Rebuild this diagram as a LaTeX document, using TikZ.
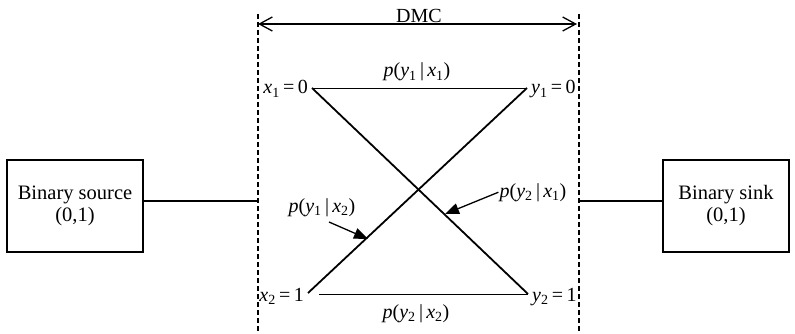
\documentclass[tikz,border=0pt]{standalone}
\usepackage{fontspec}
\setmainfont{Liberation Serif}
\usetikzlibrary{arrows.meta}
\newcommand{\pp}[4]{\textit{p}(\textit{#1}\textsubscript{#2}\,|\,\textit{#3}\textsubscript{#4})}
\newcommand{\vv}[3]{\textit{#1}\textsubscript{#2}\,=\,#3}
\tikzset{
  boxnode/.style={draw, line width=1.1pt, inner sep=0pt, align=center, font=\fontsize{20.5}{22}\selectfont},
  lbl/.style={inner sep=1pt, font=\fontsize{20}{22}\selectfont},
  border/.style={line width=1.4pt, dash pattern=on 5pt off 3pt},
  thin/.style={line width=0.9pt},
  thick diag/.style={line width=1.8pt},
  dmcarrow/.style={line width=1.5pt, {Straight Barb[length=13pt,width=14pt,line width=1.3pt]}-{Straight Barb[length=13pt,width=14pt,line width=1.3pt]}},
  ptr/.style={line width=1.3pt, -{Triangle[length=14pt,width=11pt]}}
}
\begin{document}
\begin{tikzpicture}[x=1pt,y=-1pt]
\useasboundingbox (0,0) rectangle (795,334);
% boxes
\node[boxnode, minimum width=136pt, minimum height=92pt] (src) at (75,206) {Binary source\\(0,1)};
\node[boxnode, minimum width=126pt, minimum height=92pt] (snk) at (726,206) {Binary sink\\(0,1)};
% DMC borders
\coordinate (dlt) at (258,14);
\coordinate (dlb) at (258,334);
\coordinate (drt) at (579,14);
\coordinate (drb) at (579,334);
\draw[border] (dlt) -- (dlb);
\draw[border] (drt) -- (drb);
\coordinate (am1) at (258,24);
\coordinate (am2) at (577,24);
\draw[dmcarrow] (am1) -- (am2);
\node[lbl] (dmc) at (419,16) {DMC};
% connections to boxes
\coordinate (sL) at ([yshift=5pt]src.east);
\coordinate (sR) at ([yshift=5pt]snk.west);
\draw[line width=1.1pt] (sL) -- (sL -| dlt);
\draw[line width=1.1pt] (sR) -- (sR -| drt);
% channel points
\coordinate (x1) at (312,88);
\coordinate (y1) at (527,88);
\coordinate (x2) at (308,293);
\coordinate (x2h) at (319,294);
\coordinate (y2) at (528,294);
\node[lbl, anchor=base east] (lx1) at (309,94) {\vv{x}{1}{0}};
\node[lbl, anchor=base west] (ly1) at (530,94) {\vv{y}{1}{0}};
\node[lbl, anchor=base east] (lx2) at (305,301) {\vv{x}{2}{1}};
\node[lbl, anchor=base west] (ly2) at (531,301) {\vv{y}{2}{1}};
\draw[thin] (x1) -- (y1);
\draw[thin] (x2h) -- (y2);
\draw[thick diag] (x1) -- (y2);
\draw[thick diag] (x2) -- (y1);
% transition labels
\node[lbl, anchor=base] (p11) at (417,77) {\pp{y}{1}{x}{1}};
\node[lbl, anchor=base] (p22) at (416,318) {\pp{y}{2}{x}{2}};
\node[lbl, anchor=base] (p12) at (322,212) {\pp{y}{1}{x}{2}};
\node[lbl, anchor=base] (p21) at (533,197) {\pp{y}{2}{x}{1}};
\coordinate (t12) at (329,222);
\coordinate (h12) at (368,239);
\coordinate (h21) at (445,214);
\draw[ptr] (t12) -- (h12);
\draw[ptr] (p21.west) -- (h21);
\end{tikzpicture}
\end{document}
